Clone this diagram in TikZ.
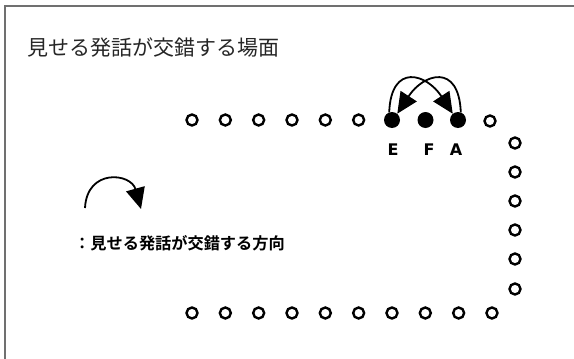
\documentclass[tikz,border=0pt]{standalone}
\usepackage{fontspec}
\newfontfamily\jpfont{Noto Sans CJK JP}
\newfontfamily\jpbold{Noto Sans CJK JP Bold}
\newfontfamily\lblfont{DejaVu Sans}
\usetikzlibrary{arrows.meta}
\definecolor{titlegray}{HTML}{262626}
\definecolor{framegray}{HTML}{707070}
\tikzset{
  seat/.style={circle,draw=black,line width=2.4pt,minimum size=11pt,inner sep=0pt},
  speaker/.style={circle,fill=black,minimum size=16pt,inner sep=0pt},
  lbl/.style={font=\lblfont\bfseries\fontsize{16}{18}\selectfont,inner sep=0pt},
  xarc/.style={line width=1.8pt,-{Triangle[length=21pt,width=19pt]}},
  frameline/.style={draw=framegray,line width=2pt}
}
\begin{document}
\begin{tikzpicture}[x=1pt,y=-1pt]
\useasboundingbox (0,0) rectangle (574,359);
% frame (cropped on the right and bottom)
\draw[frameline] (580,5.5) -- (4.5,5.5) -- (4.5,365);
% title
\node[anchor=west,inner sep=0pt,text=titlegray,font=\jpfont\fontsize{21}{24}\selectfont] (title) at (27,48) {見せる発話が交錯する場面};
% top row
\foreach \i in {0,...,5}{\node[seat] (t\i) at ({192+33.33*\i},120) {};}
\node[speaker] (E) at (392,120) {};
\node[speaker] (F) at (425.5,120) {};
\node[speaker] (A) at (458,120) {};
\node[seat] (t9) at (490,121) {};
% labels
\node[lbl] (lE) at (393,150) {E};
\node[lbl] (lF) at (429,150) {F};
\node[lbl] (lA) at (456,150) {A};
% right column
\foreach \y [count=\k] in {143,172,201,230,259,289}{\node[seat] (r\k) at (515,\y) {};}
% bottom row
\foreach \i in {0,...,9}{\node[seat] (b\i) at ({192+33.33*\i},313) {};}
% crossing arcs
\draw[xarc] (E.110) .. controls +(2,-50) and +(-26,-40) .. (A.130);
\draw[xarc] (A.70) .. controls +(-2,-50) and +(26,-40) .. (E.50);
% legend
\coordinate (la) at (85,208);
\coordinate (lb) at (141,209);
\draw[xarc] (la) .. controls +(2,-40) and +(-10,-36) .. (lb);
\node[anchor=west,inner sep=0pt,font=\jpbold\fontsize{16.2}{19}\selectfont] (legend) at (74,243) {：見せる発話が交錯する方向};
\end{tikzpicture}
\end{document}
